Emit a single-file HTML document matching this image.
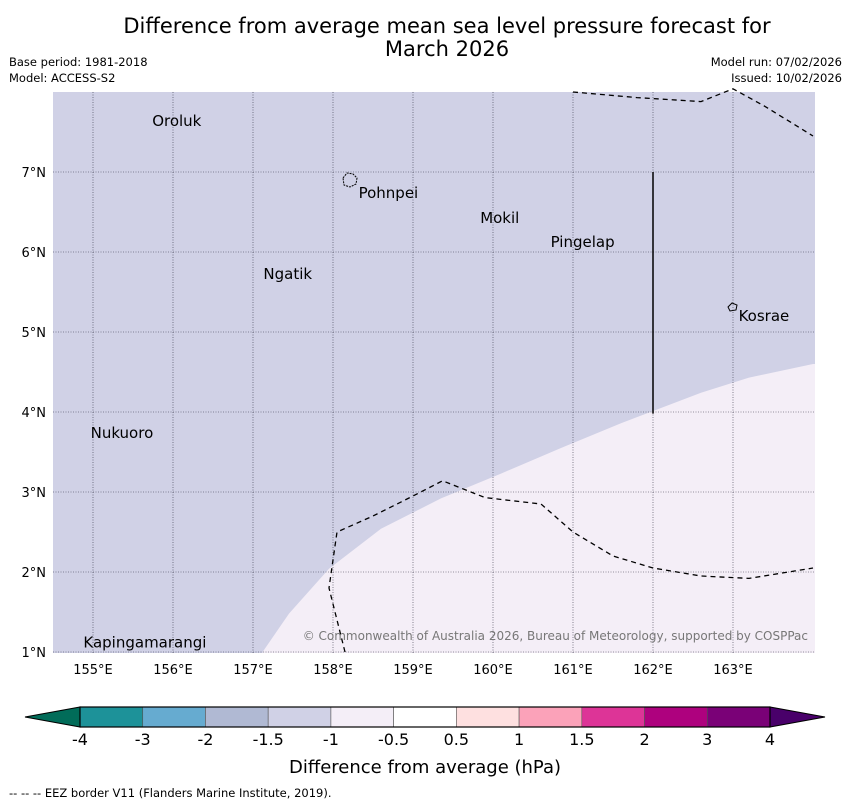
<!DOCTYPE html>
<html><head><meta charset="utf-8"><style>
body{margin:0;background:#fff;width:850px;height:804px;overflow:hidden;font-family:"Liberation Sans","DejaVu Sans",sans-serif}
</style></head><body>
<svg width="850" height="804" xmlns="http://www.w3.org/2000/svg" font-family="DejaVu Sans, Liberation Sans, sans-serif">
<text x="447" y="33" text-anchor="middle" font-size="21">Difference from average mean sea level pressure forecast for</text>
<text x="447" y="56" text-anchor="middle" font-size="21">March 2026</text>
<text x="9" y="66" font-size="11.5">Base period: 1981-2018</text>
<text x="9" y="82" font-size="11.5">Model: ACCESS-S2</text>
<text x="842" y="66" font-size="11.5" text-anchor="end">Model run: 07/02/2026</text>
<text x="842" y="82" font-size="11.5" text-anchor="end">Issued: 10/02/2026</text>
<g id="map"></g>
<g id="cbar"></g>
<text x="425" y="773" text-anchor="middle" font-size="18">Difference from average (hPa)</text>
<text x="9" y="797" font-size="11.5">--  --  -- EEZ border V11 (Flanders Marine Institute, 2019).</text>
</svg>
<script>
const lonTicks=[155,156,157,158,159,160,161,162,163];
const latTicks=[1,2,3,4,5,6,7];
const places=["Oroluk","Pohnpei","Mokil","Pingelap","Ngatik","Kosrae","Nukuoro","Kapingamarangi"];
const placeLon=[155.74,158.32,159.84,160.72,157.13,163.07,154.97,154.88];
const placeLat=[7.65,6.75,6.44,6.14,5.74,5.21,3.75,1.13];
const boundaryLon=[157.12,157.45,157.95,158.6,159.35,160.1,160.85,161.6,162.1,162.6,163.2,164];
const boundaryLat=[1,1.48,2.04,2.54,2.92,3.23,3.55,3.86,4.05,4.24,4.43,4.6];
const eez1Lon=[158.15,157.95,158.05,158.5,159.0,159.37,159.9,160.6,161.0,161.5,162,162.6,163.2,164];
const eez1Lat=[1,1.8,2.5,2.7,2.95,3.14,2.93,2.85,2.5,2.2,2.05,1.95,1.92,2.05];
const eez2Lon=[161,161.8,162.6,163,163.4,164];
const eez2Lat=[8,7.93,7.88,8.04,7.82,7.45];
const cbLevels=["-4","-3","-2","-1.5","-1","-0.5","0.5","1","1.5","2","3","4"];
const cbColors=["#1d9299","#66abd0","#b0b9d3","#d0d1e6","#f4eef7","#ffffff","#fee0e0","#fba2b9","#dd3497","#ae017e","#7a0177"];
const NS="http://www.w3.org/2000/svg";
const x0=53,x1=815,y0=92,y1=653;
const X=l=>93+(l-155)*80, Y=t=>652-(t-1)*80;
function mk(p,t,a){const e=document.createElementNS(NS,t);for(const k in a)e.setAttribute(k,a[k]);p.appendChild(e);return e;}
const map=document.getElementById('map');
const bg=mk(map,'rect',{x:x0,y:y0,width:x1-x0,height:y1-y0,fill:'#d0d1e6'});


let d=`M${X(boundaryLon[0])},${y1}`;boundaryLon.forEach((l,i)=>d+=` L${X(l)},${Y(boundaryLat[i])}`);d+=` L${x1},${Y(boundaryLat[boundaryLat.length-1])} L${x1},${y1} Z`;
const pos=mk(map,'path',{d:d,fill:'#f4eef7'});


lonTicks.forEach(l=>{const g=mk(map,'line',{x1:X(l),x2:X(l),y1:y0,y2:y1,stroke:'#334',"stroke-width":0.6,"stroke-dasharray":"1,1.5"});


const t=mk(map,'text',{x:X(l),y:y1+21,"text-anchor":"middle","font-size":13});t.textContent=l+"°E";

});
latTicks.forEach(l=>{const g=mk(map,'line',{x1:x0,x2:x1,y1:Y(l),y2:Y(l),stroke:'#334',"stroke-width":0.6,"stroke-dasharray":"1,1.5"});


const t=mk(map,'text',{x:46,y:Y(l)+5,"text-anchor":"end","font-size":13});t.textContent=l+"°N";

});
function poly(lo,la,nm){let d='';lo.forEach((l,i)=>d+=(i?' L':'M')+X(l)+','+Y(la[i]));
const p=mk(map,'path',{d:d,fill:'none',stroke:'#000',"stroke-width":1.3,"stroke-dasharray":"5,4"});

}
poly(eez1Lon,eez1Lat,'eez-border-south');
poly(eez2Lon,eez2Lat,'eez-border-north');
const vl=mk(map,'line',{x1:X(162),x2:X(162),y1:Y(7),y2:Y(3.98),stroke:'#000',"stroke-width":1.5});


const pi=mk(map,'path',{d:"M343,178 l4,-5 l6,1 l4,4 l-1,6 l-6,3 l-6,-2 z",fill:'none',stroke:'#000',"stroke-dasharray":"2,1"});


const ki=mk(map,'path',{d:"M728,307 l4,-4 l5,2 l-1,5 l-6,1 z",fill:'none',stroke:'#000'});


places.forEach((n,i)=>{const t=mk(map,'text',{x:X(placeLon[i]),y:Y(placeLat[i])+6,"font-size":15});t.textContent=n;

});
const cp=mk(map,'text',{x:808,y:640,"text-anchor":"end","font-size":12,fill:'#777'});cp.textContent="© Commonwealth of Australia 2026, Bureau of Meteorology, supported by COSPPac";


// colorbar
const cb=document.getElementById('cbar');
const cx0=80,cw=(770-80)/cbColors.length,cy=707,ch=20;
const lt=mk(cb,'polygon',{points:`25,717 ${cx0},${cy} ${cx0},${cy+ch}`,fill:'#016c59',stroke:'#000'});


const rt=mk(cb,'polygon',{points:`825,717 770,${cy} 770,${cy+ch}`,fill:'#49006a',stroke:'#000'});


cbColors.forEach((c,i)=>{const r=mk(cb,'rect',{x:cx0+i*cw,y:cy,width:cw,height:ch,fill:c,stroke:'#555',"stroke-width":0.6});

});
mk(cb,'rect',{x:cx0,y:cy,width:690,height:ch,fill:'none',stroke:'#000',"stroke-width":1.2});
cbLevels.forEach((v,i)=>{const t=mk(cb,'text',{x:cx0+i*cw,y:745,"text-anchor":"middle","font-size":16});t.textContent=v;

});
</script>
</body></html>
